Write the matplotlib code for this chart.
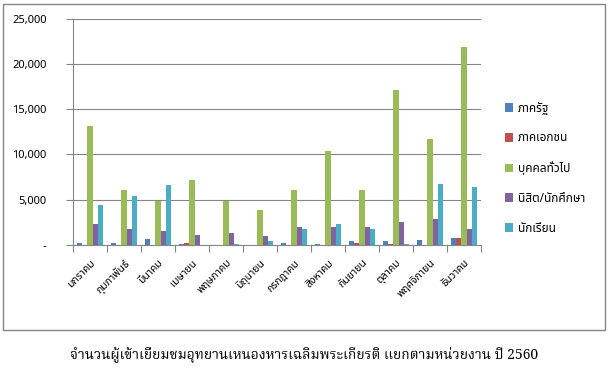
import matplotlib
matplotlib.use("Agg")
import matplotlib.pyplot as plt
import numpy as np
from matplotlib import font_manager as fm
from matplotlib.patches import Rectangle
from matplotlib.ticker import FuncFormatter

months = ["มกราคม", "กุมภาพันธ์", "มีนาคม", "เมษายน", "พฤษภาคม", "มิถุนายน",
          "กรกฎาคม", "สิงหาคม", "กันยายน", "ตุลาคม", "พฤศจิกายน", "ธันวาคม"]
series_names = ["ภาครัฐ", "ภาคเอกชน", "บุคคลทั่วไป", "นิสิต/นักศึกษา", "นักเรียน"]
government = [200, 200, 660, 100, 0, 0, 200, 100, 450, 450, 580, 770]
private = [0, 0, 0, 220, 0, 0, 0, 0, 200, 100, 0, 770]
general = [13100, 6050, 4900, 7160, 4900, 3850, 6050, 10350, 6050, 17070, 11670, 21900]
students_univ = [2300, 1760, 1540, 1100, 1320, 1000, 2000, 1950, 2000, 2530, 2860, 1760]
students_school = [4400, 5400, 6600, 0, 100, 440, 1760, 2300, 1760, 150, 6720, 6390]
colors = ["#4F81BD", "#C0504D", "#9BBB59", "#8064A2", "#4BACC6"]
title = "จำนวนผู้เข้าเยี่ยมชมอุทยานเหนองหารเฉลิมพระเกียรติ แยกตามหน่วยงาน ปี 2560"


def find_thai_fonts():
    found = {}
    try:
        from fontTools.ttLib import TTFont
    except Exception:
        return found
    for f in fm.fontManager.ttflist:
        try:
            t = TTFont(f.fname, fontNumber=0, lazy=True)
            cmap = t.getBestCmap()
            if cmap and 0x0E01 in cmap and 0x0E33 in cmap:
                found.setdefault(f.name, []).append(f.weight)
        except Exception:
            pass
    return found


thai = find_thai_fonts()
sans_pref = ["Tahoma", "Noto Sans Thai", "Noto Sans Thai UI", "Loma", "Garuda",
             "Sarabun", "Tlwg Typo", "Umpush", "Waree", "Kinnari", "Norasi"]
serif_pref = ["Angsana New", "Noto Serif Thai", "Norasi", "Kinnari", "Laksaman",
              "TH Sarabun New", "Sarabun", "Noto Sans Thai", "Loma", "Garuda"]
sans_font = next((n for n in sans_pref if n in thai), next(iter(thai), None))
serif_font = next((n for n in serif_pref if n in thai), sans_font)
sans_family = ([sans_font] if sans_font else []) + ["DejaVu Sans"]
serif_family = ([serif_font] if serif_font else []) + ["DejaVu Serif", "DejaVu Sans"]

W, H = 614, 371
fig = plt.figure(figsize=(W / 100, H / 100), dpi=100)
fig.patch.set_facecolor("white")

# outer chart border
fig.add_artist(Rectangle((3 / W, 1 - 330 / H), 602 / W, 326 / H,
                         transform=fig.transFigure, fill=False,
                         edgecolor="#868686", linewidth=1))

ax = fig.add_axes([73 / W, 1 - 245 / H, (481 - 73) / W, (245 - 18.5) / H])
data = [government, private, general, students_univ, students_school]
x = np.arange(len(months))
bw = 1 / 6.5
for i, (vals, c, name) in enumerate(zip(data, colors, series_names)):
    ax.bar(x + (i - 2) * bw, vals, width=bw, color=c, label=name, zorder=3,
           linewidth=0)

ax.set_xlim(-0.5, len(months) - 0.5)
ax.set_ylim(0, 25000)
ax.set_yticks(np.arange(0, 25001, 5000))
ax.yaxis.set_major_formatter(FuncFormatter(lambda v, p: "-" if v == 0 else f"{int(v):,}"))
ax.grid(axis="y", color="#868686", linewidth=0.8, zorder=0)
ax.tick_params(axis="y", length=5, color="#868686", pad=14, labelsize=8)
for lbl in ax.get_yticklabels():
    lbl.set_family(sans_family)

ax.set_xticks(np.arange(-0.5, len(months), 1))
ax.set_xticklabels([])
ax.tick_params(axis="x", which="major", length=5, color="#868686")
ax.set_xticks(x, minor=True)
ax.set_xticklabels(months, minor=True, rotation=45, ha="right", va="top",
                   rotation_mode="anchor", fontsize=7.5, family=sans_family)
ax.tick_params(axis="x", which="minor", length=0, pad=9)

for s in ["top", "right"]:
    ax.spines[s].set_visible(False)
for s in ["left", "bottom"]:
    ax.spines[s].set_color("#868686")
    ax.spines[s].set_linewidth(0.8)

leg = fig.legend(loc="upper left", bbox_to_anchor=(494 / W, 1 - 91 / H),
                 frameon=False, prop={"family": sans_family, "size": 8.5},
                 handlelength=0.75, handleheight=0.75, handletextpad=0.35,
                 labelspacing=1.42)

fig.text(304 / W, 1 - 355 / H, title, ha="center", va="center",
         fontsize=10, fontweight="bold", family=serif_family)

fig.savefig("out.png", dpi=100, facecolor="white")
